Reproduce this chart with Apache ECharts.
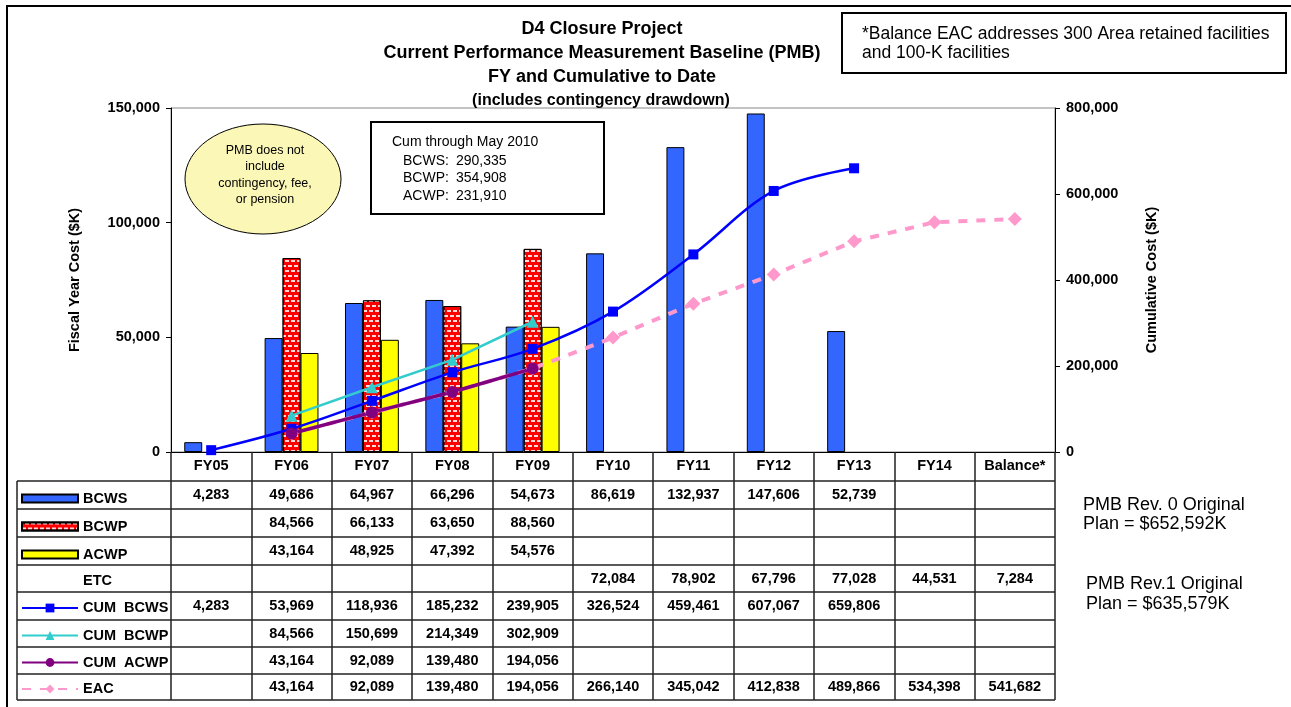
<!DOCTYPE html>
<html>
<head>
<meta charset="utf-8">
<script src="https://cdn.jsdelivr.net/npm/echarts@6/dist/echarts.min.js"></script>
<style>
  html, body { margin: 0; padding: 0; background: #fff; }
  #chart { width: 1291px; height: 707px; }
</style>
</head>
<body>
<div id="chart"></div>
<script>
const years = ['FY05', 'FY06', 'FY07', 'FY08', 'FY09', 'FY10', 'FY11', 'FY12', 'FY13', 'FY14', 'Balance*'];
const bcws = [4283, 49686, 64967, 66296, 54673, 86619, 132937, 147606, 52739, null, null];
const bcwp = [null, 84566, 66133, 63650, 88560, null, null, null, null, null, null];
const acwp = [null, 43164, 48925, 47392, 54576, null, null, null, null, null, null];
const etc = [null, null, null, null, null, 72084, 78902, 67796, 77028, 44531, 7284];
const cumBcws = [4283, 53969, 118936, 185232, 239905, 326524, 459461, 607067, 659806, null, null];
const cumBcwp = [null, 84566, 150699, 214349, 302909, null, null, null, null, null, null];
const cumAcwp = [null, 43164, 92089, 139480, 194056, null, null, null, null, null, null];
const eac = [null, 43164, 92089, 139480, 194056, 266140, 345042, 412838, 489866, 534398, 541682];

const rowNames = ['BCWS', 'BCWP', 'ACWP', 'ETC', 'CUM BCWS', 'CUM BCWP', 'CUM ACWP', 'EAC'];
const tableRows = [bcws, bcwp, acwp, etc, cumBcws, cumBcwp, cumAcwp, eac];

const titleLines = ['D4 Closure Project', 'Current Performance Measurement Baseline (PMB)', 'FY and Cumulative to Date'];
const subTitle = '(includes contingency drawdown)';
const noteText = '*Balance EAC addresses 300 Area retained facilities\nand 100-K facilities';
const cumTitle = 'Cum through May 2010';
const cumLabels = ['BCWS:', 'BCWP:', 'ACWP:'];
const cumValues = [290335, 354908, 231910];
const bubbleText = 'PMB does not\ninclude\ncontingency, fee,\nor pension';
const planNotes = ['PMB Rev. 0 Original\nPlan = $652,592K', 'PMB Rev.1 Original\nPlan = $635,579K'];

const FONT = '"Liberation Sans", Arial, sans-serif';
const fmt = v => (v == null ? '' : v.toLocaleString('en-US'));

// table layout (pixels)
const axisY = 452;
const rowLines = [481, 509, 537, 565, 592, 620, 647, 674, 700];
const rowCenters = rowLines.slice(0, -1).map((y, i) => (y + rowLines[i + 1]) / 2);

const chart = echarts.init(document.getElementById('chart'));

const labelStyle = { fontFamily: FONT, fontWeight: 'bold', fontSize: 14.5, color: '#000' };

const xAxes = [{
  type: 'category',
  data: years,
  position: 'bottom',
  boundaryGap: true,
  axisLine: { onZero: false, lineStyle: { color: '#000', width: 1 } },
  axisTick: { show: true, interval: 0, length: 248, lineStyle: { color: '#222', width: 1.5 } },
  axisLabel: Object.assign({ interval: 0, margin: 14, verticalAlign: 'middle' }, labelStyle),
  splitLine: { show: false }
}];
tableRows.forEach((row, i) => {
  xAxes.push({
    type: 'category',
    data: years,
    position: 'bottom',
    boundaryGap: true,
    axisLine: { show: false, onZero: false },
    axisTick: { show: false },
    axisLabel: Object.assign({
      interval: 0,
      margin: rowCenters[i] - axisY,
      verticalAlign: 'middle',
      formatter: (v, idx) => fmt(row[idx])
    }, labelStyle),
    splitLine: { show: false }
  });
});

const legends = rowNames.map((name, i) => {
  const isBar = i < 3;
  const h = isBar ? 8 : 11;
  const item = { name: name };
  if (isBar) item.icon = 'rect';
  if (name === 'ETC') { item.itemStyle = { opacity: 0 }; item.lineStyle = { opacity: 0 }; }
  return {
    data: [item],
    left: 21,
    top: rowCenters[i] - h / 2,
    padding: 0,
    itemWidth: 56,
    itemHeight: h,
    selectedMode: false,
    formatter: n => n.replace('CUM ', 'CUM  '),
    textStyle: labelStyle
  };
});

const graphics = [
  { type: 'rect', shape: { x: 7, y: 6, width: 1320, height: 740 }, style: { fill: 'none', stroke: '#000', lineWidth: 2 }, z: 100 },
  { type: 'rect', shape: { x: 842, y: 13, width: 444, height: 60 }, style: { fill: '#fff', stroke: '#000', lineWidth: 2 } },
  { type: 'text', x: 862, y: 43.5, style: { text: noteText, font: '17.5px ' + FONT, fill: '#000', lineHeight: 19.5, verticalAlign: 'middle' } },
  { type: 'rect', shape: { x: 371, y: 122, width: 233, height: 92 }, style: { fill: '#fff', stroke: '#000', lineWidth: 2 }, z: 50 },
  { type: 'text', x: 392, y: 142, style: { text: cumTitle, font: '14px ' + FONT, fill: '#000', verticalAlign: 'middle' }, z: 51 },
  { type: 'ellipse', shape: { cx: 263, cy: 179, rx: 78, ry: 55 }, style: { fill: '#fbf7b6', stroke: '#000', lineWidth: 1 }, z: 50 },
  { type: 'text', x: 265, y: 175, style: { text: bubbleText, font: '12.5px ' + FONT, fill: '#000', lineHeight: 16.3, align: 'center', verticalAlign: 'middle' }, z: 51 },
  { type: 'line', shape: { x1: 17, y1: rowLines[0], x2: 17, y2: rowLines[8] }, style: { stroke: '#222', lineWidth: 1.5 } },
  { type: 'text', x: 1083, y: 514.5, style: { text: planNotes[0], font: '18px ' + FONT, fill: '#000', lineHeight: 19.5, verticalAlign: 'middle' } },
  { type: 'text', x: 1086, y: 594, style: { text: planNotes[1], font: '18px ' + FONT, fill: '#000', lineHeight: 19.5, verticalAlign: 'middle' } }
];
titleLines.forEach((t, i) => {
  graphics.push({ type: 'text', x: 602, y: 29.5 + i * 24, style: { text: t, font: 'bold 18px ' + FONT, fill: '#000', align: 'center', verticalAlign: 'middle' } });
});
graphics.push({ type: 'text', x: 601, y: 100.5, style: { text: subTitle, font: 'bold 16px ' + FONT, fill: '#000', align: 'center', verticalAlign: 'middle' } });
cumLabels.forEach((l, i) => {
  graphics.push({ type: 'text', x: 403, y: 161 + i * 17.5, style: { text: l, font: '14px ' + FONT, fill: '#000', verticalAlign: 'middle' }, z: 51 });
  graphics.push({ type: 'text', x: 456, y: 161 + i * 17.5, style: { text: fmt(cumValues[i]), font: '14px ' + FONT, fill: '#000', verticalAlign: 'middle' }, z: 51 });
});
rowLines.forEach(y => {
  graphics.push({ type: 'line', shape: { x1: 17, y1: y, x2: 1055, y2: y }, style: { stroke: '#222', lineWidth: 1.5 } });
});

const barStyle = c => ({ color: c, borderColor: '#000', borderWidth: 1 });

chart.setOption({
  animation: false,
  backgroundColor: '#fff',
  textStyle: { fontFamily: FONT },
  grid: { left: 171, right: 236, top: 108, bottom: 255, show: true, borderColor: '#888', borderWidth: 1, containLabel: false, outerBoundsMode: 'none' },
  legend: legends,
  xAxis: xAxes,
  yAxis: [{
    type: 'value', min: 0, max: 150000, interval: 50000, position: 'left',
    name: 'Fiscal Year Cost ($K)', nameLocation: 'middle', nameRotate: 90, nameGap: 89,
    nameTextStyle: labelStyle,
    axisLine: { show: true, lineStyle: { color: '#000' } },
    axisTick: { show: true, length: 5, lineStyle: { color: '#000' } },
    axisLabel: Object.assign({ margin: 11, formatter: v => fmt(v) }, labelStyle),
    splitLine: { show: false }
  }, {
    type: 'value', min: 0, max: 800000, interval: 200000, position: 'right',
    name: 'Cumulative Cost ($K)', nameLocation: 'middle', nameRotate: 90, nameGap: 89,
    nameTextStyle: labelStyle,
    axisLine: { show: true, lineStyle: { color: '#000' } },
    axisTick: { show: true, length: 5, lineStyle: { color: '#000' } },
    axisLabel: Object.assign({ margin: 11, formatter: v => fmt(v) }, labelStyle),
    splitLine: { show: false }
  }],
  series: [
    { name: 'BCWS', type: 'bar', data: bcws, barGap: '0%', barCategoryGap: '33%', itemStyle: barStyle('#3366ff') },
    { name: 'BCWP', type: 'bar', data: bcwp,
      itemStyle: Object.assign(barStyle('#ff0000'), {
        decal: { symbol: 'rect', symbolSize: 1, color: 'rgba(255,255,255,0.85)', dashArrayX: [[4, 2], [1, 2, 3, 0]], dashArrayY: [2, 2.5], rotation: 0 }
      }) },
    { name: 'ACWP', type: 'bar', data: acwp, itemStyle: barStyle('#ffff00') },
    { name: 'ETC', type: 'line', data: etc, symbol: 'none', silent: true, lineStyle: { opacity: 0 }, itemStyle: { opacity: 0 } },
    { name: 'EAC', type: 'line', yAxisIndex: 1, data: eac, symbol: 'diamond', symbolSize: 14,
      lineStyle: { color: '#ff99cc', width: 4, type: [9, 9] }, itemStyle: { color: '#ff99cc' } },
    { name: 'CUM BCWS', type: 'line', yAxisIndex: 1, data: cumBcws, smooth: 0.35, symbol: 'rect', symbolSize: 10,
      lineStyle: { color: '#0000ff', width: 2.5 }, itemStyle: { color: '#0000ff' } },
    { name: 'CUM BCWP', type: 'line', yAxisIndex: 1, data: cumBcwp, symbol: 'triangle', symbolSize: 12,
      lineStyle: { color: '#33cccc', width: 2.5 }, itemStyle: { color: '#33cccc' } },
    { name: 'CUM ACWP', type: 'line', yAxisIndex: 1, data: cumAcwp, symbol: 'circle', symbolSize: 12,
      lineStyle: { color: '#800080', width: 3.5 }, itemStyle: { color: '#800080' } }
  ],
  graphic: graphics
});
</script>
</body>
</html>
